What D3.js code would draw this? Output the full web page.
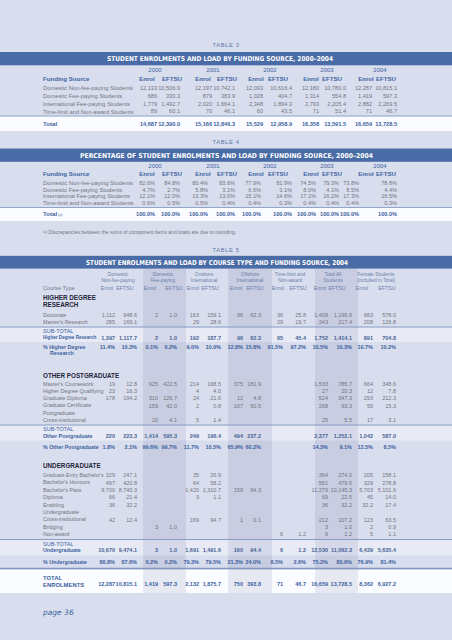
<!DOCTYPE html>
<html><head><meta charset="utf-8">
<script src="https://cdn.jsdelivr.net/npm/d3@7"></script>
<style>html,body{margin:0;padding:0;background:#d9deee;}svg{display:block}</style>
</head><body><svg id="c" width="452" height="640"></svg>
<script>
// ================= DATA =================
const years = ["2000", "2001", "2002", "2003", "2004"];
const measures = ["Enrol", "EFTSU"];
const fundingSources = ["Domestic Non-fee-paying Students", "Domestic Fee-paying Students",
  "International Fee-paying Students", "Time-limit and Non-award Students"];
// Table 3 (rows = funding source, cols = years)
const enrolT3 = [[12133, 12197, 12093, 12180, 12287], [686, 879, 1028, 1314, 1419],
  [1779, 2020, 2348, 2793, 2882], [89, 70, 60, 71, 71]];
const eftsuT3 = [[10506.9, 10742.1, 10616.4, 10780.0, 10815.1], [330.3, 383.9, 404.7, 554.8, 597.3],
  [1492.7, 1664.1, 1894.3, 2205.4, 2269.5], [60.1, 46.1, 43.5, 51.4, 46.7]];
const totalEnrolT3 = [14687, 15166, 15529, 16358, 16659];
const totalEftsuT3 = [12390.0, 12846.3, 12958.9, 13591.5, 13728.5];
// Table 4 (percentages)
const enrolPctT4 = [[82.6, 80.4, 77.9, 74.5, 73.8], [4.7, 5.8, 6.6, 8.0, 8.5],
  [12.1, 13.3, 15.1, 17.1, 17.3], [0.6, 0.5, 0.4, 0.4, 0.4]];
const eftsuPctT4 = [[84.8, 83.6, 81.9, 79.3, 78.8], [2.7, 3.1, 3.1, 4.1, 4.4],
  [12.0, 13.0, 14.6, 16.2, 16.5], [0.5, 0.4, 0.3, 0.4, 0.3]];
const totalEnrolPctT4 = [100.0, 100.0, 100.0, 100.0, 100.0];
const totalEftsuPctT4 = [100.0, 100.0, 100.0, 100.0, 100.0];
// Table 5
const groupsT5 = [["Domestic", "Non-fee-paying"], ["Domestic", "Fee-paying"], ["Onshore", "International"],
  ["Offshore", "International"], ["Time-limit and", "Non-award"], ["Total All", "Students"],
  ["Female Students", "(included in Total)"]];
const hdrCourses = [["Doctorate"], ["Master's Research"]];
const hdrValues = [
  [1112, 948.6, 2, 1.0, 163, 159.1, 96, 62.3, 36, 25.8, 1409, 1196.6, 683, 578.0],
  [285, 169.1, null, null, 29, 28.6, null, null, 29, 19.7, 343, 217.4, 208, 126.8]];
const hdrSubtotal = [1397, 1117.7, 2, 1.0, 192, 187.7, 96, 62.3, 65, 45.4, 1752, 1414.1, 891, 704.8];
const hdrPct = [11.4, 10.3, 0.1, 0.2, 9.0, 10.0, 12.8, 15.8, 91.5, 97.2, 10.5, 10.3, 10.7, 10.2];
const pgCourses = [["Master's Coursework"], ["Higher Degree Qualifying"], ["Graduate Diploma"],
  ["Graduate Certificate"], ["Postgraduate", "Cross-institutional"]];
const pgValues = [
  [19, 12.8, 925, 422.5, 214, 168.5, 375, 181.9, null, null, 1533, 785.7, 664, 348.6],
  [23, 16.3, null, null, 4, 4.0, null, null, null, null, 27, 20.3, 12, 7.8],
  [178, 194.2, 310, 126.7, 24, 21.6, 12, 4.8, null, null, 524, 347.3, 293, 212.3],
  [null, null, 159, 42.0, 2, 0.8, 107, 50.5, null, null, 268, 93.3, 56, 15.3],
  [null, null, 20, 4.1, 5, 1.4, null, null, null, null, 25, 5.5, 17, 3.1]];
const pgSubtotal = [220, 223.3, 1414, 595.3, 249, 196.4, 494, 237.2, null, null, 2377, 1252.1, 1042, 587.0];
const pgPct = [1.8, 2.1, 99.6, 99.7, 11.7, 10.5, 65.9, 60.2, null, null, 14.3, 9.1, 12.5, 8.5];
const ugCourses = [["Graduate Entry Bachelor's"], ["Bachelor's Honours"], ["Bachelor's Pass"], ["Diploma"],
  ["Enabling"], ["Undergraduate", "Cross-institutional"], ["Bridging"], ["Non-award"]];
const ugValues = [
  [329, 247.1, null, null, 35, 26.9, null, null, null, null, 364, 274.0, 205, 158.1],
  [497, 420.8, null, null, 64, 58.2, null, null, null, null, 561, 479.0, 329, 278.8],
  [9700, 8740.3, null, null, 1420, 1310.7, 159, 94.3, null, null, 11279, 10145.3, 5703, 5101.6],
  [66, 21.4, null, null, 3, 1.1, null, null, null, null, 69, 22.5, 45, 14.0],
  [36, 32.2, null, null, null, null, null, null, null, null, 36, 32.2, 32.2, 17.4],
  [42, 12.4, null, null, 169, 94.7, 1, 0.1, null, null, 212, 107.2, 123, 63.5],
  [null, null, 3, 1.0, null, null, null, null, null, null, 3, 1.0, 2, 0.9],
  [null, null, null, null, null, null, null, null, 6, 1.2, 6, 1.2, 5, 1.1]];
const ugSubtotal = [10670, 9474.1, 3, 1.0, 1691, 1491.6, 160, 94.4, 6, 1.2, 12530, 11062.3, 6429, 5635.4];
const ugPct = [86.8, 87.6, 0.2, 0.2, 79.3, 79.5, 21.3, 24.0, 8.5, 2.6, 75.2, 80.6, 76.9, 81.4];
const totalT5 = [12287, 10815.1, 1419, 597.3, 2132, 1875.7, 750, 393.8, 71, 46.7, 16659, 13728.5, 8362, 6927.2];

// ================= STYLE / LAYOUT =================
const W = 452, H = 640;
const C = {bg: "#d9deee", bar: "#4a6ca6", blue: "#3b62a0", gray: "#74747e", dark: "#24243a",
  white: "#fbfcff", sub: "#e8ebf6", line: "#8196c0", tlabel: "#5a77aa"};
const SANS = "'Liberation Sans', Arial, Helvetica, sans-serif";
const svg = d3.select("#c");
svg.append("rect").attr("width", W).attr("height", H).attr("fill", C.bg);
const gBack = svg.append("g"), gShade = svg.append("g"), gLines = svg.append("g"), gText = svg.append("g");

function txt(x, y, s, o = {}) {
  const t = gText.append("text").attr("x", x).attr("y", y).attr("dy", "0.35em").text(s)
    .attr("font-family", o.ff || SANS).attr("font-size", o.fs || 6)
    .attr("fill", o.fill || C.gray).attr("font-weight", o.fw || "normal")
    .attr("font-style", o.fst || "normal")
    .attr("text-anchor", o.anchor || "start")
    .attr("letter-spacing", o.ls || null);
  if (o.maxW) {
    // shrink the font until the label fits its column
    let fs = o.fs || 6;
    while (t.node().getComputedTextLength() > o.maxW && fs > 3.5) { fs -= 0.1; t.attr("font-size", fs); }
  }
  return t;
}
function band(y0, y1, fill) { gBack.append("rect").attr("x", 0).attr("y", y0).attr("width", W).attr("height", y1 - y0).attr("fill", fill); }
function hline(y, color, w) { gLines.append("line").attr("x1", 0).attr("x2", W).attr("y1", y).attr("y2", y).attr("stroke", color).attr("stroke-width", w); }
function titleBar(label, labelY, y0, y1, title, tx0, tx1) {
  txt(226, labelY, label, {anchor: "middle", fill: C.tlabel, fs: 5.8, ls: 0.6});
  gBack.append("rect").attr("x", 0).attr("y", y0).attr("width", W).attr("height", y1 - y0).attr("fill", C.bar);
  gText.append("text").attr("x", tx0).attr("y", (y0 + y1) / 2).attr("dy", "0.36em").text(title)
    .attr("font-family", "'DejaVu Sans', Verdana, sans-serif").attr("font-weight", "bold")
    .attr("font-size", 6.7).attr("fill", "#ffffff")
    .attr("textLength", tx1 - tx0).attr("lengthAdjust", "spacingAndGlyphs");
}
const fInt = d3.format(","), fDec = d3.format(",.1f"), fPct = v => d3.format(".1f")(v) + "%";

// ---------- Tables 3 & 4 column scales ----------
const colKeys = years.flatMap(y => measures.map(m => y + m));
const x3 = d3.scaleOrdinal().domain(colKeys).range([157, 180, 212, 235, 263, 292, 319, 346, 372, 397]);
const x4 = d3.scaleOrdinal().domain(colKeys).range([155, 180, 208, 235, 261, 292, 316, 339, 359, 397]);
const xHead = d3.scaleOrdinal().domain(colKeys).range([147, 172, 203, 227, 256, 278, 311, 332, 366, 386]);
const xYear = d3.scaleOrdinal().domain(years).range([155, 213, 270, 327, 380]);
const labelX = 43;

function headerRows(yYears, yHead) {
  years.forEach(yr => txt(xYear(yr), yYears, yr, {anchor: "middle", fill: C.blue, fs: 6}));
  txt(labelX, yHead, "Funding Source", {fill: C.blue, fw: "bold", fs: 6.1});
  colKeys.forEach(k => txt(xHead(k), yHead, k.slice(4), {anchor: "middle", fill: C.blue, fw: "bold", fs: 6.1}));
}

// ---------- TABLE 3 ----------
titleBar("TABLE 3", 45, 52, 65.3, "STUDENT ENROLMENTS AND LOAD BY FUNDING SOURCE, 2000\u20132004", 107, 333);
headerRows(69.5, 78.5);
const y3 = d3.scaleOrdinal().domain(d3.range(4)).range([88.3, 96, 103.8, 111.5]);
fundingSources.forEach((s, r) => {
  txt(labelX, y3(r), s, {fs: 5.8, maxW: 94});
  years.forEach((yr, c) => {
    txt(x3(yr + "Enrol"), y3(r), fInt(enrolT3[r][c]), {anchor: "end", fs: 5.6});
    txt(x3(yr + "EFTSU"), y3(r), fDec(eftsuT3[r][c]), {anchor: "end", fs: 5.6});
  });
});
hline(116, C.line, 0.8);
band(116.4, 131, C.white);
txt(labelX, 123.8, "Total", {fill: C.blue, fw: "bold", fs: 6.1});
years.forEach((yr, c) => {
  txt(x3(yr + "Enrol"), 123.8, fInt(totalEnrolT3[c]), {anchor: "end", fill: C.blue, fw: "bold", fs: 5.6});
  txt(x3(yr + "EFTSU"), 123.8, fDec(totalEftsuT3[c]), {anchor: "end", fill: C.blue, fw: "bold", fs: 5.6});
});

// ---------- TABLE 4 ----------
titleBar("TABLE 4", 142, 148.5, 161.8, "PERCENTAGE OF STUDENT ENROLMENTS AND LOAD BY FUNDING SOURCE, 2000\u20132004", 80, 373);
headerRows(166, 174.3);
const y4 = d3.scaleOrdinal().domain(d3.range(4)).range([182.8, 189.6, 196.4, 203.2]);
fundingSources.forEach((s, r) => {
  txt(labelX, y4(r), s, {fs: 5.8, maxW: 94});
  years.forEach((yr, c) => {
    txt(x4(yr + "Enrol"), y4(r), fPct(enrolPctT4[r][c]), {anchor: "end", fs: 5.6});
    txt(x4(yr + "EFTSU"), y4(r), fPct(eftsuPctT4[r][c]), {anchor: "end", fs: 5.6});
  });
});
hline(207.5, C.line, 0.8);
band(207.9, 221, C.white);
const tot4 = txt(labelX, 214.3, "Total", {fill: C.blue, fw: "bold", fs: 6.1});
tot4.append("tspan").text(" (a)").attr("font-size", 3.6).attr("dy", "-0.2em").attr("font-weight", "normal");
years.forEach((yr, c) => {
  txt(x4(yr + "Enrol"), 214.3, fPct(totalEnrolPctT4[c]), {anchor: "end", fill: C.blue, fw: "bold", fs: 5.6});
  txt(x4(yr + "EFTSU"), 214.3, fPct(totalEftsuPctT4[c]), {anchor: "end", fill: C.blue, fw: "bold", fs: 5.6});
});
const fn = txt(labelX, 233.5, "", {fs: 5});
fn.append("tspan").text("(a)").attr("font-size", 3.4).attr("dy", "-0.25em");
fn.append("tspan").text(" Discrepancies between the sums of component items and totals are due to rounding.").attr("dy", "0.25em");

// ---------- TABLE 5 ----------
titleBar("TABLE 5", 249.5, 255.8, 268.6, "STUDENT ENROLMENTS AND LOAD BY COURSE TYPE AND FUNDING SOURCE, 2004", 86, 348);
const x5 = d3.scaleOrdinal().domain(d3.range(14)).range([115, 137, 158, 177, 199, 221, 243, 261, 283, 306, 328, 352, 373, 396]);
const xGroup = d3.scaleOrdinal().domain(d3.range(7)).range([118, 163, 204, 250, 290, 333, 376]);
const xSub = d3.scaleOrdinal().domain(d3.range(14)).range([107, 125, 150, 174, 193, 210, 236, 255, 278, 298, 320, 337, 362, 387]);
const shadeCols = [[143, 186], [228, 272], [315, 358]];
const t5Top = 268.6, t5Bottom = 593;
shadeCols.forEach(([a, b]) => gShade.append("rect").attr("x", a).attr("y", t5Top).attr("width", b - a)
  .attr("height", t5Bottom - t5Top).attr("fill", "rgba(60,70,140,0.11)"));

groupsT5.forEach((g, i) => {
  txt(xGroup(i), 274.5, g[0], {anchor: "middle", fill: "#6a7fa8", fs: 4.9});
  txt(xGroup(i), 280, g[1], {anchor: "middle", fill: "#6a7fa8", fs: 4.9});
});
txt(labelX, 288, "Course Type", {fs: 5.6, fill: "#6d7590"});
d3.range(14).forEach(i => txt(xSub(i), 288, measures[i % 2], {anchor: "middle", fs: 5.3, fill: "#6a7fa8"}));

function fmt5(v, i, pct) { if (v == null) return ""; return pct ? fPct(v) : (i % 2 === 0 ? fInt(v) : fDec(v)); }
function valueRow(vals, y, o = {}) {
  vals.forEach((v, i) => { if (v != null) txt(x5(i), y, fmt5(v, i, o.pct), {anchor: "end", fs: 5.5, fill: o.fill || C.gray, fw: o.fw}); });
}
function courseRows(names, vals, ys, pitch) {
  names.forEach((n, r) => {
    n.forEach((line, k) => txt(labelX, ys[r] - (n.length - 1 - k) * pitch, line, {fs: 5.4, maxW: 61}));
    valueRow(vals[r], ys[r]);
  });
}
function section(title, y) {
  title.forEach((t, k) => txt(labelX, y + k * 7, t, {fw: "bold", fill: C.dark, fs: 6.3}));
}
function subtotal(name, vals, yTop, yBot) {
  hline(yTop, C.line, 0.9);
  band(yTop + 0.4, yBot, C.sub);
  txt(labelX, yTop + 4.3, "SUB-TOTAL", {fill: C.blue, fs: 5.5});
  txt(labelX, yTop + 10.8, name, {fill: C.blue, fw: "bold", fs: 5.3, maxW: 54});
  valueRow(vals, yTop + 10.8, {fill: "#4a6496", fw: "bold"});
}
function pctRow(lines, vals, y) {
  lines.forEach((t, k) => txt(labelX + (k ? 7 : 0), y + k * 6.6, t, {fill: C.blue, fw: "bold", fs: 5.3, maxW: 58}));
  valueRow(vals, y, {pct: true, fill: C.blue, fw: "bold"});
}

// Higher degree research
section(["HIGHER DEGREE", "RESEARCH"], 297.5);
courseRows(hdrCourses, hdrValues, [315, 322], 7);
subtotal("Higher Degree Research", hdrSubtotal, 327, 342);
pctRow(["% Higher Degree", "Research"], hdrPct, 347);
// Other postgraduate
section(["OTHER POSTGRADUATE"], 375.5);
courseRows(pgCourses, pgValues, [384, 391.2, 398.4, 405.6, 420], 7.2);
subtotal("Other Postgraduate", pgSubtotal, 425, 440.5);
pctRow(["% Other Postgraduate"], pgPct, 447);
// Undergraduate
section(["UNDERGRADUATE"], 466);
courseRows(ugCourses, ugValues, [475.2, 482.6, 490, 497.4, 504.8, 519.6, 527, 534.4], 7.4);
subtotal("Undergraduate", ugSubtotal, 539.5, 555.5);
pctRow(["% Undergraduate"], ugPct, 562);
// Total
hline(568.5, C.line, 1.6);
band(569.5, t5Bottom, C.white);
txt(labelX, 578, "TOTAL", {fill: C.blue, fw: "bold", fs: 5.9});
txt(labelX, 584.5, "ENROLMENTS", {fill: C.blue, fw: "bold", fs: 5.9});
valueRow(totalT5, 584.5, {fill: C.blue, fw: "bold"});

// page number
txt(labelX, 612, "page 36", {fill: C.blue, fst: "italic", fs: 7.5, ff: "'DejaVu Sans', sans-serif"});
</script></body></html>
